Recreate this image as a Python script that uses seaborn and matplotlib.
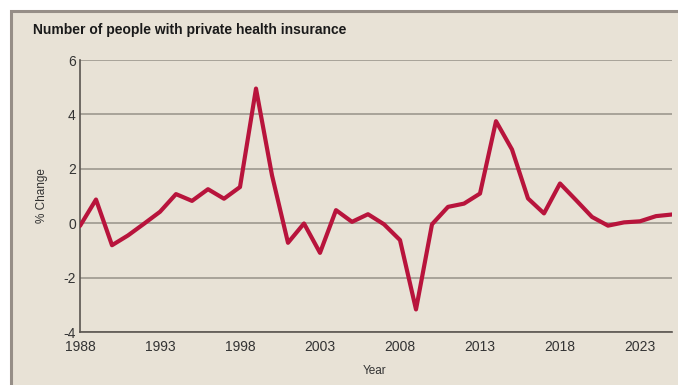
import matplotlib
matplotlib.use("Agg")
import matplotlib.pyplot as plt
from matplotlib.patches import Rectangle
import seaborn as sns
import pandas as pd

years = list(range(1988, 2026))
pct_change = [-0.10, 0.87, -0.81, -0.45, -0.02, 0.42, 1.07, 0.82, 1.25, 0.90,
              1.33, 4.95, 1.76, -0.72, -0.01, -1.09, 0.48, 0.05, 0.33, -0.04,
              -0.62, -3.17, -0.04, 0.60, 0.72, 1.09, 3.75, 2.71, 0.91, 0.36,
              1.46, 0.85, 0.23, -0.09, 0.03, 0.07, 0.26, 0.32]
x_ticks = [1988, 1993, 1998, 2003, 2008, 2013, 2018, 2023]
y_ticks = [-4, -2, 0, 2, 4, 6]
title = "Number of people with private health insurance"

df = pd.DataFrame({"Year": years, "% Change": pct_change})

sns.set_style("white")
plt.rcParams["font.family"] = ["Liberation Sans", "DejaVu Sans"]

BG = "#e8e2d6"
LINE = "#b8143c"
GRID = "#9d988f"
SPINE = "#5a5550"

W, H = 678, 385
fig = plt.figure(figsize=(W / 100, H / 100), dpi=100, facecolor="white")
fig.patches.append(Rectangle((11 / W, -0.05), 1.2, 1 - 11 / H + 0.05,
                             transform=fig.transFigure, facecolor=BG,
                             edgecolor="#968e87", linewidth=2.2, zorder=-10))

ax = fig.add_axes([80 / W, 1 - 332 / H, (672 - 80) / W, (332 - 60) / H])
ax.set_facecolor(BG)
ax.patch.set_alpha(0)

sns.lineplot(data=df, x="Year", y="% Change", ax=ax, color=LINE,
             linewidth=3.0, zorder=3)

ax.set_xlim(1988, 2025)
ax.set_ylim(-4, 6)
ax.set_xticks(x_ticks)
ax.set_yticks(y_ticks)
ax.set_xticklabels([str(t) for t in x_ticks], fontsize=10, color="#333333")
ax.set_yticklabels([str(t) for t in y_ticks], fontsize=10, color="#333333")
ax.yaxis.grid(True, color=GRID, linewidth=1.2)
ax.xaxis.grid(False)
ax.set_axisbelow(True)
for s in ["top", "right"]:
    ax.spines[s].set_visible(False)
for s in ["left", "bottom"]:
    ax.spines[s].set_color(SPINE)
    ax.spines[s].set_linewidth(1.2)
ax.tick_params(axis="x", direction="out", length=4, width=1, color=SPINE, pad=2)
ax.tick_params(axis="y", direction="out", length=3, width=1, color=SPINE, pad=0)
ax.set_xlabel("")
ax.set_ylabel("")

fig.text(33 / W, 1 - 30 / H, title, fontsize=10, fontweight="bold",
         color="#1a1a1a", ha="left", va="center")
fig.text(375 / W, 1 - 371 / H, "Year", fontsize=8.5, color="#333333",
         ha="center", va="center")
fig.text(42 / W, 1 - 196 / H, "% Change", fontsize=8.5, color="#333333",
         ha="center", va="center", rotation=90)

fig.savefig("out.png", dpi=100, facecolor="white")
